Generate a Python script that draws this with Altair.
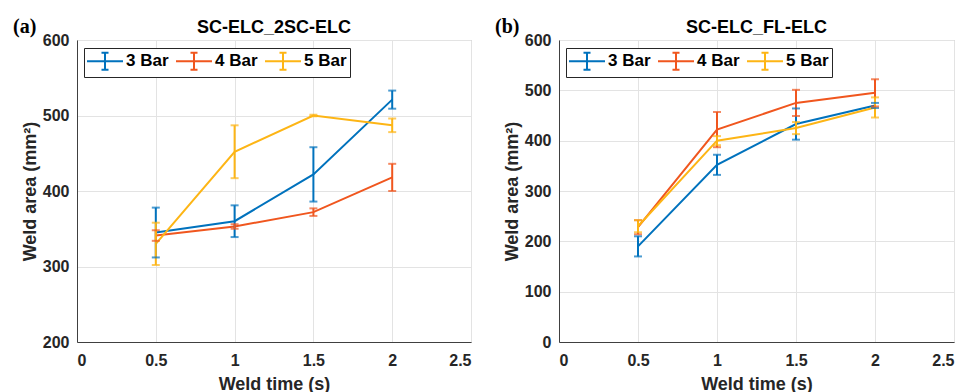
import altair as alt
import pandas as pd

times = [0.5, 1.0, 1.5, 2.0]
series = ["3 Bar", "4 Bar", "5 Bar"]
colors = ["#0072BD", "#F0561E", "#FDB515"]

# Panel (a): SC-ELC_2SC-ELC
a_3 = [345, 360, 422, 521]
a_3_err = [33, 21, 36, 12]
a_4 = [341, 353, 372, 418]
a_4_err = [7, 3, 5, 18]
a_5 = [330, 452, 500, 487]
a_5_err = [28, 35, 1, 9]

# Panel (b): SC-ELC_FL-ELC
b_3 = [190, 352, 433, 470]
b_3_err = [20, 20, 31, 5]
b_4 = [228, 422, 475, 495]
b_4_err = [14, 35, 26, 27]
b_5 = [230, 400, 425, 466]
b_5_err = [12, 9, 12, 20]

x_ticks = [0, 0.5, 1, 1.5, 2, 2.5]
a_y_ticks = [200, 300, 400, 500, 600]
b_y_ticks = [0, 100, 200, 300, 400, 500, 600]

FONT = "Liberation Sans"
TXT = "#262626"
SYMBOL = "M-2,0H2M0,-0.95V0.95M-0.39,-0.95H0.39M-0.39,0.95H0.39"


def frame(vals, errs):
    rows = []
    for s, v, e in zip(series, vals, errs):
        for t, y, d in zip(times, v, e):
            rows.append({"t": t, "area": y, "lo": y - d, "hi": y + d, "s": s})
    return pd.DataFrame(rows)


def panel(df, title, tag, ydom, yticks, w, anchor=False):
    xs = alt.Scale(domain=[0, 2.5], nice=False)
    ys = alt.Scale(domain=ydom, nice=False, zero=False)
    xax = alt.Axis(values=x_ticks, format="~g", title="Weld time (s)",
                   labelPadding=10, titleY=47, titleBaseline="alphabetic")
    yax = alt.Axis(values=yticks, format="d", title="Weld area (mm²)",
                   labelPadding=8, titleX=-42, titleY=151,
                   titleBaseline="alphabetic")
    color = alt.Color("s:N", scale=alt.Scale(domain=series, range=colors),
                      legend=alt.Legend(
                          orient="none", legendX=7, legendY=8,
                          direction="horizontal", columns=3, title=None,
                          symbolType=SYMBOL, symbolSize=324,
                          symbolStrokeWidth=2, symbolOffset=8,
                          labelOffset=11, columnPadding=3, padding=3,
                          labelFont=FONT, labelFontSize=17,
                          labelFontWeight="bold", labelColor="#000",
                          strokeColor="#262626", fillColor="white",
                          cornerRadius=0))
    base = alt.Chart(df)
    lines = base.mark_line(strokeWidth=2).encode(
        x=alt.X("t:Q", scale=xs, axis=xax),
        y=alt.Y("area:Q", scale=ys, axis=yax),
        color=color, detail="s:N")
    rules = base.mark_rule(strokeWidth=2).encode(
        x="t:Q", y="lo:Q", y2="hi:Q",
        color=alt.Color("s:N", legend=None))
    cap_lo = base.mark_tick(orient="horizontal", size=8, thickness=2).encode(
        x="t:Q", y="lo:Q", color=alt.Color("s:N", legend=None))
    cap_hi = base.mark_tick(orient="horizontal", size=8, thickness=2).encode(
        x="t:Q", y="hi:Q", color=alt.Color("s:N", legend=None))
    one = pd.DataFrame({"k": [tag], "ttl": [title]})
    label = alt.Chart(one).mark_text(
        font="Liberation Serif", fontSize=20, fontWeight="bold",
        align="left", baseline="alphabetic", color="#000").encode(
        x=alt.value(-64), y=alt.value(-7), text="k:N")
    head = alt.Chart(one).mark_text(
        font=FONT, fontSize=18, fontWeight="bold",
        align="center", baseline="alphabetic", color="#000").encode(
        x=alt.value(w / 2), y=alt.value(-7), text="ttl:N")
    layers = [lines, rules, cap_lo, cap_hi, label, head]
    if anchor:
        # invisible layout anchor: fixes the top-left corner of the page
        layers.append(alt.Chart(one).mark_rule(strokeOpacity=0, strokeWidth=0).encode(
            x=alt.value(-76), x2=alt.value(-76), y=alt.value(-39), y2=alt.value(-39)))
    return alt.layer(*layers).properties(width=w, height=302)


pa = panel(frame([a_3, a_4, a_5], [a_3_err, a_4_err, a_5_err]),
           "SC-ELC_2SC-ELC", "(a)", [200, 600], a_y_ticks, 394, anchor=True)
pb = panel(frame([b_3, b_4, b_5], [b_3_err, b_4_err, b_5_err]),
           "SC-ELC_FL-ELC", "(b)", [0, 600], b_y_ticks, 395)

chart = alt.hconcat(pa, pb, spacing=88, bounds="flush").resolve_legend(
    color="independent").properties(
    padding=0,
    background="white"
).configure_view(stroke="#b4b4b4", strokeWidth=1).configure_axis(
    grid=True, gridColor="#e3e3e3", domain=True, domainColor="#404040",
    domainWidth=1, ticks=False,
    labelFont=FONT, labelFontSize=16, labelFontWeight="bold", labelColor=TXT,
    titleFont=FONT, titleFontSize=18, titleFontWeight="bold", titleColor=TXT)

chart.save("out.html", embed_options={"renderer": "svg", "actions": False})
